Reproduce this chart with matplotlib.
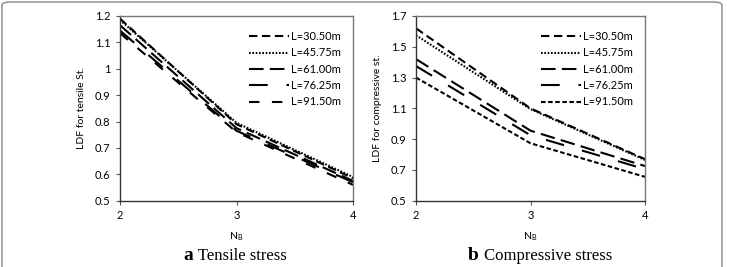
import matplotlib
matplotlib.use("Agg")
import matplotlib.pyplot as plt
from matplotlib.patches import FancyBboxPatch

nb = [2, 3, 4]
labels = ["L=30.50m", "L=45.75m", "L=61.00m", "L=76.25m", "L=91.50m"]

tensile = {
    "L=30.50m": [1.19, 0.79, 0.585],
    "L=45.75m": [1.185, 0.795, 0.59],
    "L=61.00m": [1.165, 0.775, 0.575],
    "L=76.25m": [1.145, 0.765, 0.57],
    "L=91.50m": [1.135, 0.76, 0.56],
}
compressive = {
    "L=30.50m": [1.62, 1.10, 0.77],
    "L=45.75m": [1.575, 1.095, 0.765],
    "L=61.00m": [1.42, 0.955, 0.725],
    "L=76.25m": [1.375, 0.925, 0.705],
    "L=91.50m": [1.30, 0.873, 0.655],
}

styles_a = {
    "L=30.50m": (0, (4, 2.2)),
    "L=45.75m": (0, (0.8, 0.8)),
    "L=61.00m": (0, (7, 3)),
    "L=76.25m": (0, (9, 9)),
    "L=91.50m": (0, (5, 6)),
}
styles_b = {
    "L=30.50m": (0, (4, 2.2)),
    "L=45.75m": (0, (0.8, 0.8)),
    "L=61.00m": (0, (7, 3)),
    "L=76.25m": (0, (9, 9)),
    "L=91.50m": (0, (2.2, 1.2)),
}

font = "Lato"
W, H = 735, 267
fig = plt.figure(figsize=(W / 100, H / 100), dpi=100)

frame = FancyBboxPatch((2 / W, -10 / H), 720 / W, (H - 2 + 10) / H,
                       boxstyle="round,pad=0,rounding_size=0.012",
                       transform=fig.transFigure, fill=False,
                       edgecolor="#999999", linewidth=1.2)
fig.patches.append(frame)


def make(ax, data, styles, ylim, yticks, ytl, ylabel):
    for lab in labels:
        ax.plot(nb, data[lab], color="black", linewidth=1.5,
                linestyle=styles[lab], label=lab)
    ax.set_xlim(2, 4)
    ax.set_ylim(*ylim)
    ax.set_xticks(nb)
    ax.set_xticklabels([str(v) for v in nb], fontfamily=font, fontsize=8)
    ax.set_yticks(yticks)
    ax.set_yticklabels(ytl, fontfamily=font, fontsize=8)
    ax.tick_params(axis="both", length=3, width=0.8, color="#555555", pad=4)
    for s in ["top", "right"]:
        ax.spines[s].set_color("#777777")
        ax.spines[s].set_linewidth(1.0)
    for s in ["left", "bottom"]:
        ax.spines[s].set_color("#333333")
        ax.spines[s].set_linewidth(1.0)
    ax.set_xlabel(r"N$_{\mathregular{B}}$", fontfamily=font, fontsize=7.5, labelpad=6)
    ax.set_ylabel(ylabel, fontfamily=font, fontsize=7.5, labelpad=6)
    ax.legend(loc="upper right", bbox_to_anchor=(0.98, 0.96), frameon=False,
              prop={"family": font, "size": 8}, handlelength=3.6,
              handletextpad=0.15, labelspacing=0.48, borderaxespad=0.3)


ax1 = fig.add_axes([120 / W, 1 - 200.7 / H, 233 / W, 184.7 / H])
make(ax1, tensile, styles_a, (0.5, 1.2),
     [0.5, 0.6, 0.7, 0.8, 0.9, 1.0, 1.1, 1.2],
     ["0.5", "0.6", "0.7", "0.8", "0.9", "1", "1.1", "1.2"],
     "LDF for tensile St.")

ax2 = fig.add_axes([416 / W, 1 - 200.7 / H, 229 / W, 184.7 / H])
make(ax2, compressive, styles_b, (0.5, 1.7),
     [0.5, 0.7, 0.9, 1.1, 1.3, 1.5, 1.7],
     ["0.5", "0.7", "0.9", "1.1", "1.3", "1.5", "1.7"],
     "LDF for compressive st.")

serif = "Liberation Serif"
fig.text(193 / W, 1 - 256 / H, "a", fontfamily=serif, fontweight="bold",
         fontsize=14, ha="right", va="center")
fig.text(194 / W, 1 - 256 / H, " Tensile stress", fontfamily=serif, fontsize=12,
         ha="left", va="center")
fig.text(479 / W, 1 - 256 / H, "b", fontfamily=serif, fontweight="bold",
         fontsize=14, ha="right", va="center")
fig.text(480 / W, 1 - 256 / H, " Compressive stress", fontfamily=serif, fontsize=12,
         ha="left", va="center")

fig.savefig("out.png", dpi=100)
